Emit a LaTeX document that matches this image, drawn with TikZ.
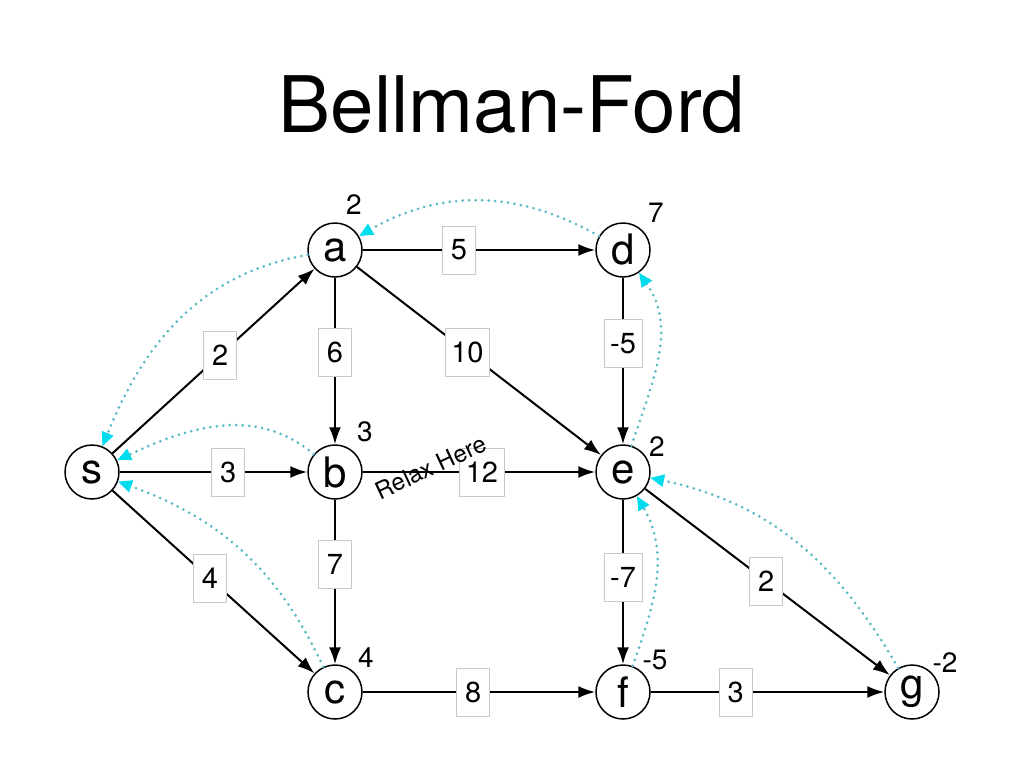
\documentclass[tikz,border=0pt]{standalone}
\usepackage{fontspec}
\setmainfont{TeX Gyre Heros}
\usetikzlibrary{arrows.meta,calc}
\definecolor{relaxline}{RGB}{90,185,195}
\definecolor{relaxtip}{RGB}{0,220,235}
\definecolor{boxgray}{RGB}{200,200,200}
\tikzset{
  vertex/.style={circle,draw,line width=1.5pt,minimum size=54pt,inner sep=0pt,font=\fontsize{42}{42}\selectfont},
  weight/.style={draw=boxgray,fill=white,line width=0.7pt,minimum width=33pt,minimum height=48pt,inner xsep=6pt,font=\fontsize{29}{29}\selectfont},
  dist/.style={font=\fontsize{28}{28}\selectfont},
  edge/.style={line width=2pt,-{Latex[length=17pt,width=12pt]}},
  parent/.style={relaxline,line width=3pt,dash pattern=on 0pt off 6.5pt,line cap=round,
    -{Triangle[length=14pt,width=12pt,color=relaxtip]}}
}
\begin{document}
\begin{tikzpicture}[x=1pt,y=-1pt,line join=round]
  \useasboundingbox (0,0) rectangle (1024,768);
  \node[anchor=base,font=\fontsize{78}{78}\selectfont] (title) at (512,132) {Bellman-Ford};
  \foreach \n/\x/\y/\d/\dx/\dy in {s/92/472//0/0,a/335/250/2/19/-45,b/335/472/3/30/-40,c/335/692/4/31/-34,
    d/623/250/7/33/-37,e/623/472/2/34/-25,f/623/692/-5/32/-32,g/912/692/-2/33/-29}{
      \node[vertex] (\n) at (\x,\y) {\n};
      \node[dist] (d\n) at ($(\n)+(\dx,\dy)$) {\d};
  }
  \foreach \u/\v/\w/\p in {s/a/2/0.527,s/b/3/0.56,s/c/4/0.485,a/b/6/0.46,a/d/5/0.43,a/e/10/0.46,
    b/e/12/0.51,b/c/7/0.42,d/e/-5/0.42,e/f/-7/0.48,e/g/2/0.495,c/f/8/0.48,f/g/3/0.39}{
      \draw[edge] (\u) -- (\v);
      \node[weight] (w\u\v) at ($(\u)!\p!(\v)$) {\w};
  }
  \node[rotate=25,font=\fontsize{24}{24}\selectfont] (relax) at (431,467) {Relax Here};
  \foreach \u/\v/\o/\i in {d/a/150/30,a/s/190/68,b/s/140/25,c/s/115/-20,e/d/72/-55,f/e/70/-60,g/e/120/-12}{
      \draw[parent] (\u) to[out=\o,in=\i] (\v);
  }
\end{tikzpicture}
\end{document}
